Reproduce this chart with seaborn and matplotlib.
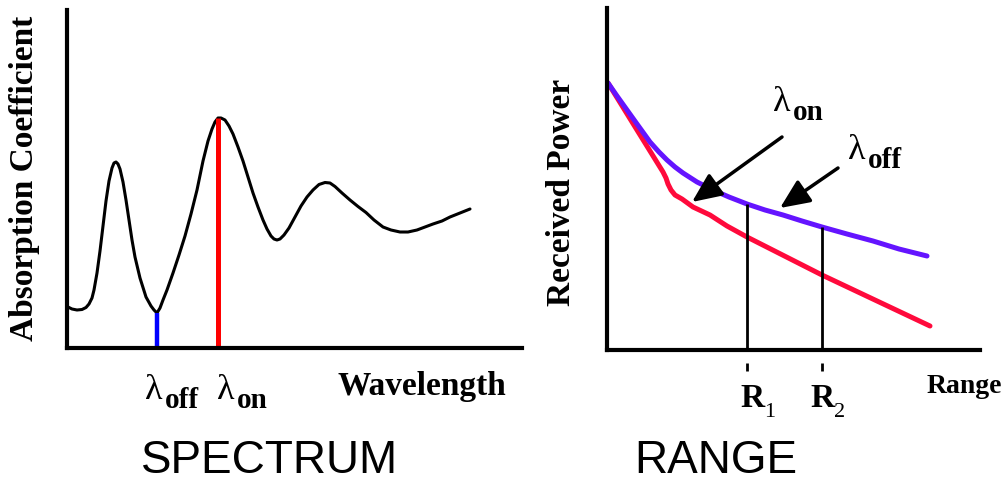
import matplotlib
matplotlib.use('Agg')
import matplotlib.pyplot as plt
import seaborn as sns

# spectrum panel: absorption vs wavelength (arbitrary units)
wavelength = [1, 5, 10, 15, 19, 22, 25, 27, 30, 33, 36, 39, 42, 45, 47, 49, 51, 53, 56, 59,
              62, 65, 68, 73, 79, 84, 87, 90, 93, 96, 100, 106, 112, 118, 124, 130, 136, 141, 145, 148,
              151, 154, 158, 162, 166, 171, 176, 181, 186, 191, 196, 200, 204, 207, 210, 213, 217, 222,
              228, 234, 240, 246, 252, 258, 263, 268, 275, 283, 291, 299, 307, 316, 324, 333, 341, 350,
              358, 366, 375, 383, 393, 403]
absorption = [41, 39, 38, 38.5, 40.5, 44, 50, 58, 75, 97, 122, 147, 167, 180, 185, 186, 184, 179, 166, 148,
              128, 108, 91, 70, 51, 42, 38, 35, 40, 48, 58, 75, 93, 112, 134, 158, 187, 207, 219, 226,
              230, 230, 228, 222, 214, 201, 187, 171, 155, 141, 128, 119, 112, 109, 108, 109, 113, 120,
              131, 142, 151, 158, 163.5, 165.5, 165, 161.5, 155, 148, 141.5, 135.5, 128, 121, 118, 116, 116, 118,
              121, 124, 127, 131, 135, 139]
lam_off = 90
lam_on = 151

# range panel: received power vs range
range_off = [1, 10, 20, 30, 43, 52, 60, 68, 76, 90, 106, 122, 140, 158, 176, 195, 215, 240, 266, 292, 320]
power_off = [267, 254, 240, 226, 208, 198, 190, 183, 177, 168, 160, 153, 146, 140, 135, 129, 123, 116, 109, 101, 94]
range_on = [1, 30, 56, 59, 61, 64, 68, 75, 86, 103, 120, 140, 215, 323]
power_on = [267, 220, 178, 172, 166, 160, 155, 151, 143, 135, 124, 113, 75, 24]
R1 = 140
R2 = 215

sns.set_style('white')
plt.rcParams['font.family'] = ['Liberation Serif', 'DejaVu Sans']
plt.rcParams['text.color'] = 'black'

W, H = 1007, 482
fig = plt.figure(figsize=(W / 100, H / 100), dpi=100)


def fx(px):
    return px / W


def fy(py):
    return 1 - py / H


def style_axes(ax):
    sns.despine(ax=ax)
    for s in ['left', 'bottom']:
        ax.spines[s].set_linewidth(3)
        ax.spines[s].set_color('black')
    ax.set_xticks([])
    ax.set_yticks([])


def lam_label(x, y, sub, size=26, subsize=21):
    fig.text(fx(x), fy(y), 'λ', fontsize=size, ha='left', va='baseline')
    fig.text(fx(x + 20), fy(y + 9), sub, fontsize=subsize, fontweight='bold',
             ha='left', va='baseline')


# ---- SPECTRUM ----
ax1 = fig.add_axes([fx(67), fy(348), 455 / W, 338 / H])
sns.lineplot(x=wavelength, y=absorption, ax=ax1, color='black', lw=2.2, estimator=None, sort=False)
ax1.vlines(lam_off, 0, absorption[wavelength.index(lam_off)], color='#0000ff', lw=3.2)
ax1.vlines(lam_on, 0, absorption[wavelength.index(lam_on)], color='#ff0000', lw=3.6)
ax1.set_xlim(0, 455)
ax1.set_ylim(0, 338)
style_axes(ax1)

fig.text(fx(25), fy(178), 'Absorption Coefficient', rotation=90, fontsize=24,
         fontweight='bold', ha='center', va='center')
fig.text(fx(338), fy(395), 'Wavelength', fontsize=24, fontweight='bold', ha='left', va='baseline')
lam_label(145, 399, 'off')
lam_label(217, 399, 'on')
fig.text(fx(270), fy(473), 'SPECTRUM', fontsize=33, family='Liberation Sans',
         ha='center', va='baseline')

# ---- RANGE ----
ax2 = fig.add_axes([fx(607), fy(350), 373 / W, 342 / H])
sns.lineplot(x=range_on, y=power_on, ax=ax2, color='#ff0a3c', lw=3.6, estimator=None, sort=False)
sns.lineplot(x=range_off, y=power_off, ax=ax2, color='#6414ff', lw=3.6, estimator=None, sort=False)
ax2.vlines([R1, R2], 0, [power_off[range_off.index(R1)], power_off[range_off.index(R2)]],
           color='black', lw=2)
ax2.vlines([R1, R2], -13, -21, color='black', lw=2, clip_on=False)
ax2.set_xlim(0, 373)
ax2.set_ylim(0, 342)
style_axes(ax2)

arrow = dict(arrowstyle='-|>,head_length=0.9,head_width=0.4', mutation_scale=20,
             color='black', lw=2.5, shrinkA=0, shrinkB=0)
ax2.annotate('', xy=(85, 148), xytext=(175, 213), arrowprops=arrow)
ax2.annotate('', xy=(173, 142), xytext=(231, 182), arrowprops=arrow)

fig.text(fx(562), fy(192), 'Received Power', rotation=90, fontsize=24,
         fontweight='bold', ha='center', va='center')
fig.text(fx(927), fy(393), 'Range', fontsize=20, fontweight='bold', ha='left', va='baseline')
for x, n in [(740, '1'), (810, '2')]:
    fig.text(fx(x), fy(407), 'R', fontsize=24, fontweight='bold', ha='left', va='baseline')
    fig.text(fx(x + 24), fy(417), n, fontsize=16, ha='left', va='baseline')
lam_label(773, 111, 'on')
lam_label(848, 159, 'off')
fig.text(fx(716), fy(473), 'RANGE', fontsize=33, family='Liberation Sans',
         ha='center', va='baseline')

fig.savefig('out.png', dpi=100)
